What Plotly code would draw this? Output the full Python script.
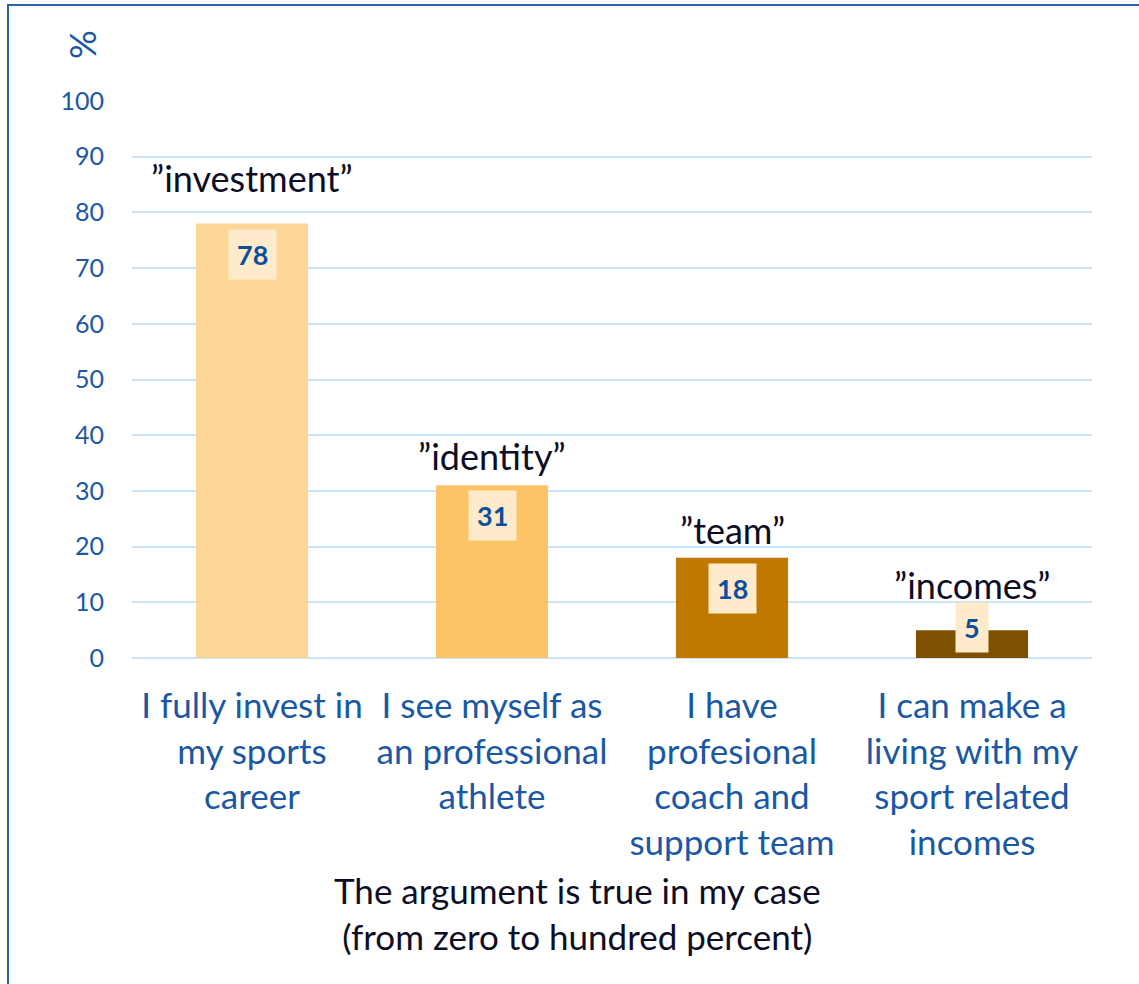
import plotly.graph_objects as go

categories = [
    "I fully invest in<br>my sports<br>career",
    "I see myself as<br>an professional<br>athlete",
    "I have<br>profesional<br>coach and<br>support team",
    "I can make a<br>living with my<br>sport related<br>incomes",
]
values = [78, 31, 18, 5]
short_labels = ["”investment”", "”identity”", "”team”", "”incomes”"]
y_ticks = [0, 10, 20, 30, 40, 50, 60, 70, 80, 90, 100]

bar_colors = ["#FDD797", "#FDC467", "#C07800", "#7F5000"]
blue = "#1A58A4"
FONT = "Lato"
W, H = 1139, 984
OFF = 0  # body margin removed via post_script
# plot area in page pixels: x 132..1092, y 101..658
L = 132 - OFF
T = 101 - OFF
R = W - (1092 - OFF)
B = H - (658 - OFF)
pw, ph = W - L - R, H - T - B

def px2paper_x(px):
    return (px - OFF - L) / pw

def px2paper_y(py):
    return (H - B - (py - OFF)) / ph

fig = go.Figure()
fig.add_trace(go.Bar(
    x=categories, y=values,
    marker=dict(color=bar_colors, line=dict(width=0)),
    hoverinfo="skip",
))

# value labels with light boxes
for c, v in zip(categories, values):
    fig.add_annotation(
        x=c, y=max(v - 5.5, 5.5), xref="x", yref="y",
        text=f"<b>{v}</b>", showarrow=False,
        font=dict(family=FONT, size=27, color="#0B4F9C"),
        bgcolor="#FFEBCC", borderpad=8, yanchor="middle", xanchor="center",
    )

# quoted short labels above bars (pixel offsets above bar top)
label_offsets = [46, 29, 28, 45]
for c, v, s, off in zip(categories, values, short_labels, label_offsets):
    fig.add_annotation(
        x=c, y=v, xref="x", yref="y", text=s, showarrow=False,
        font=dict(family=FONT, size=36, color="#0D0D26"),
        yanchor="middle", xanchor="center", yshift=off,
    )

# y axis title "%"
fig.add_annotation(
    x=px2paper_x(82), y=px2paper_y(45), xref="paper", yref="paper",
    text="%", textangle=-90, showarrow=False,
    xanchor="center", yanchor="middle",
    font=dict(family=FONT, size=36, color=blue),
)

# x axis title
fig.add_annotation(
    x=px2paper_x(577), y=px2paper_y(913), xref="paper", yref="paper",
    text="The argument is true in my case<br>(from zero to hundred percent)",
    showarrow=False, align="center", xanchor="center", yanchor="middle",
    font=dict(family=FONT, size=35, color="#0D0D26"),
)

# outer frame
fig.add_shape(
    type="rect", xref="paper", yref="paper",
    x0=px2paper_x(8), x1=px2paper_x(1300),
    y0=px2paper_y(1200), y1=px2paper_y(5),
    line=dict(color="#2A62A8", width=2), fillcolor="rgba(0,0,0,0)", layer="below",
)

fig.update_layout(
    width=W, height=H,
    margin=dict(l=L, r=R, t=T, b=B, pad=0),
    paper_bgcolor="white", plot_bgcolor="white",
    bargap=0.533, showlegend=False,
    font=dict(family=FONT),
)
fig.update_xaxes(
    showgrid=False, zeroline=False, showline=False, ticks="",
    tickfont=dict(family=FONT, size=35, color=blue),
    ticklabelstandoff=24,
)
fig.update_yaxes(
    range=[0, 100], tickvals=y_ticks, showgrid=True,
    gridcolor="#CCE4F8", gridwidth=2, zeroline=True, zerolinecolor="#CCE4F8", zerolinewidth=2,
    showline=False, ticks="",
    tickfont=dict(family=FONT, size=25, color=blue),
    ticklabelstandoff=27,
)

fig.write_html("out.html", config={"displayModeBar": False},
               post_script="document.body.style.margin='0';")
